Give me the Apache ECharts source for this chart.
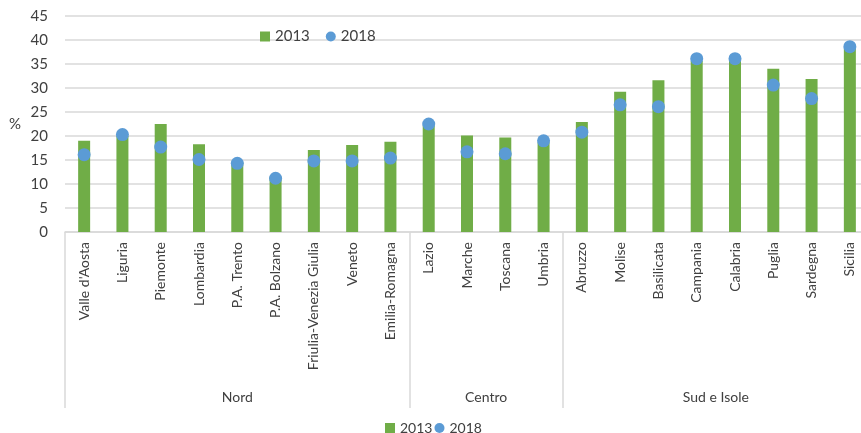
<!DOCTYPE html>
<html><head><meta charset="utf-8">
<script src="https://cdn.jsdelivr.net/npm/echarts@6/dist/echarts.min.js"></script>
<style>html,body{margin:0;padding:0;background:#fff}#c{width:861px;height:433px}</style>
</head><body><div id="c"></div>
<script>
const categories = ["Valle d'Aosta","Liguria","Piemonte","Lombardia","P.A. Trento","P.A. Bolzano","Friulia-Venezia Giulia","Veneto","Emilia-Romagna","Lazio","Marche","Toscana","Umbria","Abruzzo","Molise","Basilicata","Campania","Calabria","Puglia","Sardegna","Sicilia"];
const values2013 = [19.0, 20.0, 22.5, 18.3, 14.6, 11.5, 17.1, 18.1, 18.8, 22.2, 20.1, 19.7, 18.7, 22.9, 29.2, 31.6, 35.6, 35.6, 34.0, 31.9, 38.2];
const values2018 = [16.1, 20.3, 17.7, 15.1, 14.3, 11.2, 14.8, 14.8, 15.4, 22.5, 16.7, 16.3, 19.0, 20.8, 26.5, 26.1, 36.1, 36.1, 30.6, 27.8, 38.6];
const groupNames = ["Nord", "Centro", "Sud e Isole"];
const groupSizes = [9, 4, 8];
const yTicks = [0, 5, 10, 15, 20, 25, 30, 35, 40, 45];

// group boundaries (category indices) and group centres (in category units)
const boundaries = [];
const centres = {};
let start = 0;
groupSizes.forEach((n, i) => {
  boundaries.push(start);
  centres[String(start + (n - 1) / 2)] = groupNames[i];
  start += n;
});

const font = 'Lato, "Liberation Sans", sans-serif';
const txt = '#404040';
const gridCol = '#d9d9d9';

const chart = echarts.init(document.getElementById('c'), null, {renderer: 'canvas'});
chart.setOption({
  animation: false,
  textStyle: {fontFamily: font},
  grid: {left: 65, right: -8, top: 16, bottom: 201, containLabel: false, outerBoundsMode: 'none'},
  legend: [
    {left: 255, top: 24, itemWidth: 10, itemHeight: 10, itemGap: 16,
     textStyle: {fontFamily: font, fontSize: 15, color: txt},
     data: [{name: '2013', icon: 'rect'}, {name: '2018', icon: 'circle'}]},
    {left: 380, top: 416, itemWidth: 10, itemHeight: 10, itemGap: 2,
     textStyle: {fontFamily: font, fontSize: 14, color: txt},
     data: [{name: '2013', icon: 'rect'}, {name: '2018', icon: 'circle'}]}
  ],
  xAxis: [
    {type: 'category', data: categories, boundaryGap: true,
     axisLine: {show: true, lineStyle: {color: gridCol, width: 1.5}},
     axisTick: {show: true, length: 176, lineStyle: {color: gridCol, width: 1.5},
                interval: (idx) => boundaries.indexOf(idx) >= 0},
     axisLabel: {rotate: 90, interval: 0, margin: 10, fontFamily: font, fontSize: 14, color: txt}},
    {type: 'value', position: 'bottom', offset: 150, min: -0.5, max: categories.length - 0.5, interval: 0.5,
     axisLine: {show: false}, axisTick: {show: false}, splitLine: {show: false},
     axisLabel: {margin: 8, fontFamily: font, fontSize: 14, color: txt,
                 showMinLabel: true, showMaxLabel: true,
                 formatter: (v) => centres[String(v)] || ''}}
  ],
  yAxis: {type: 'value', min: yTicks[0], max: yTicks[yTicks.length - 1], interval: 5,
    name: '%', nameLocation: 'middle', nameRotate: 0, nameGap: 44,
    nameTextStyle: {fontFamily: font, fontSize: 15, color: txt},
    axisLine: {show: false}, axisTick: {show: false},
    axisLabel: {margin: 17, fontFamily: font, fontSize: 15, color: txt},
    splitLine: {lineStyle: {color: gridCol, width: 1.5}}},
  series: [
    {name: '2013', type: 'bar', data: values2013, barWidth: 12,
     itemStyle: {color: '#70AD47'}},
    {name: '2018', type: 'scatter', data: values2018, symbol: 'circle', symbolSize: 13,
     itemStyle: {color: '#5B9BD5', opacity: 1}, z: 3}
  ]
});
</script></body></html>
